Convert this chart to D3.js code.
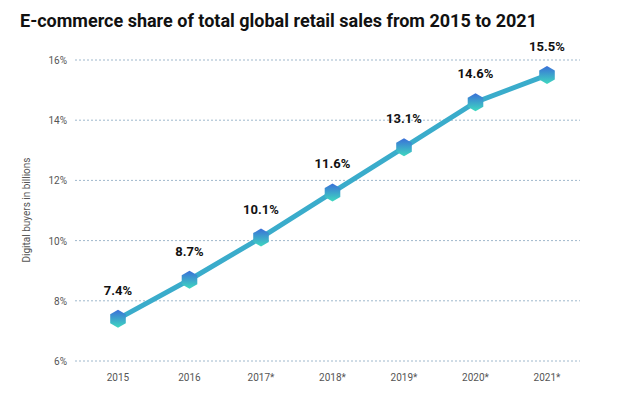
<!DOCTYPE html>
<html><head><meta charset="utf-8">
<script src="https://cdn.jsdelivr.net/npm/d3@7"></script>
<style>body{margin:0;background:#fff;font-family:Roboto,"DejaVu Sans",sans-serif}</style>
</head><body><div class="chart"></div>
<script>
const years = ["2015", "2016", "2017*", "2018*", "2019*", "2020*", "2021*"];
const shares = [7.4, 8.7, 10.1, 11.6, 13.1, 14.6, 15.5];
const yTicks = [6, 8, 10, 12, 14, 16];

const margin = { top: 60, left: 75, right: 60, bottom: 39 };
const width = 640 - margin.left - margin.right;
const height = 400 - margin.top - margin.bottom;

const root = d3.select(".chart").append("svg").attr("width", 640).attr("height", 400);

const defs = root.append("defs");
const grad = defs.append("linearGradient").attr("id", "hex").attr("x1", 0).attr("y1", 0).attr("x2", 0).attr("y2", 1);
grad.append("stop").attr("offset", "0%").attr("stop-color", "#3a6fd8");
grad.append("stop").attr("offset", "100%").attr("stop-color", "#3fd9c0");

root.append("text").attr("x", 20).attr("y", 27)
  .attr("font-size", 18).attr("font-weight", 700).attr("fill", "#111")
  .text("E-commerce share of total global retail sales from 2015 to 2021");

const svg = root.append("g").attr("transform", `translate(${margin.left},${margin.top})`);

const x = d3.scalePoint().domain(years).range([43, 472]);
const y = d3.scaleLinear().domain([6, 16]).range([height, 0]);

svg.selectAll(".grid").data(yTicks).enter().append("line")
  .attr("x1", 0).attr("x2", width)
  .attr("y1", d => y(d)).attr("y2", d => y(d))
  .attr("stroke", "#9fb8cc").attr("stroke-dasharray", "2,2").attr("stroke-width", 1);

svg.selectAll(".ytick").data(yTicks).enter().append("text")
  .attr("x", -8).attr("y", d => y(d) + 4).attr("text-anchor", "end")
  .attr("font-size", 10).attr("fill", "#555").text(d => d + "%");

svg.selectAll(".xtick").data(years).enter().append("text")
  .attr("x", d => x(d)).attr("y", height + 20).attr("text-anchor", "middle")
  .attr("font-size", 10).attr("fill", "#555").text(d => d);

root.append("text").attr("transform", "translate(30,210) rotate(-90)")
  .attr("text-anchor", "middle").attr("font-size", 10).attr("fill", "#555")
  .text("Digital buyers in billions");

const line = d3.line().x((d, i) => x(years[i])).y(d => y(d));
svg.append("path").datum(shares).attr("d", line)
  .attr("fill", "none").attr("stroke", "#3aaccb").attr("stroke-width", 5);

const r = 9;
const hexPts = d3.range(6).map(i => {
  const a = Math.PI / 3 * i + Math.PI / 6;
  return [r * Math.cos(a), r * Math.sin(a)];
});
svg.selectAll(".hex").data(shares).enter().append("polygon")
  .attr("points", hexPts.map(p => p.join(",")).join(" "))
  .attr("transform", (d, i) => `translate(${x(years[i])},${y(d)})`)
  .attr("fill", "url(#hex)");

svg.selectAll(".lbl").data(shares).enter().append("text")
  .attr("x", (d, i) => x(years[i])).attr("y", d => y(d) - 24)
  .attr("text-anchor", "middle").attr("font-size", 13).attr("font-weight", 700).attr("fill", "#111")
  .text(d => d.toFixed(1) + "%");
</script></body></html>
